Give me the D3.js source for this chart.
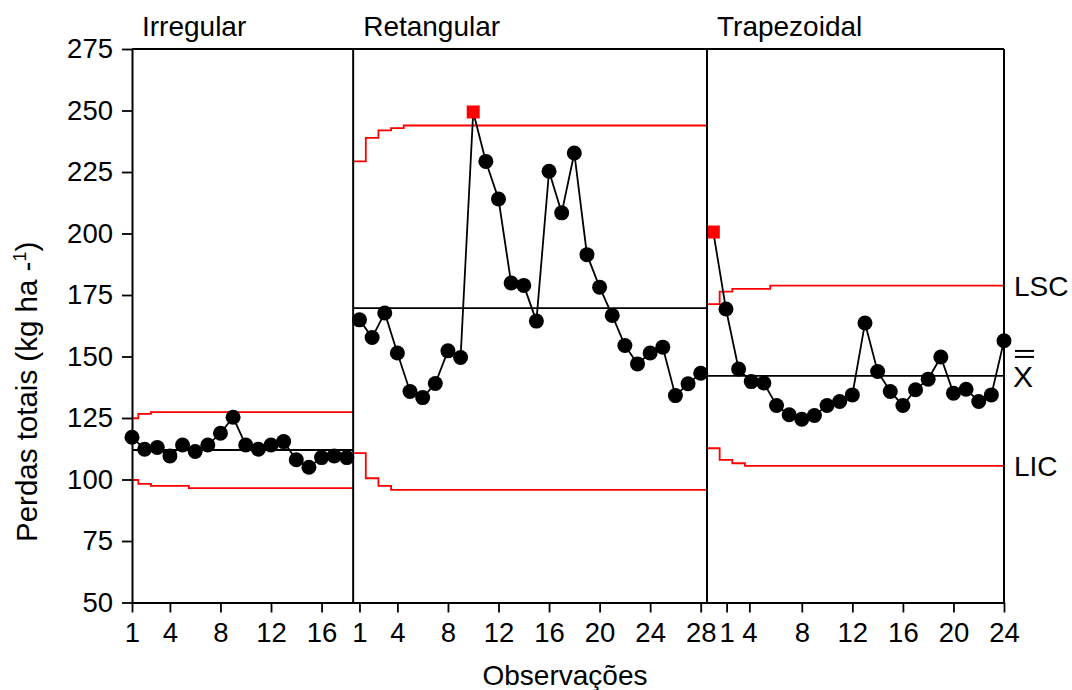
<!DOCTYPE html>
<html><head><meta charset="utf-8">
<script src="https://cdn.jsdelivr.net/npm/d3@7"></script>
<style>
html,body{margin:0;padding:0;background:#fff;}
svg text{font-family:"Liberation Sans",Arial,Helvetica,sans-serif;fill:#000;}
</style></head><body>
<svg id="chart" width="1072" height="690"></svg>
<script>
// ---------------- DATA ----------------
const stages = ["Irregular", "Retangular", "Trapezoidal"];

const irregular = [117.2,112.3,113.0,109.6,114.0,111.4,114.0,118.8,125.3,114.0,112.3,114.0,115.4,108.0,105.0,108.9,109.6,108.9];
const retangular = [164.9,157.7,167.7,151.4,135.8,133.3,139.0,152.3,149.6,249.4,229.3,214.0,179.9,178.9,164.4,225.3,208.4,232.7,191.4,178.2,166.7,154.5,147.0,151.4,153.8,134.1,138.9,143.2];
const trapezoidal = [200.6,169.3,144.9,139.8,139.2,130.1,126.3,124.5,126.0,130.1,131.7,134.4,163.6,143.9,135.8,130.1,136.5,140.8,149.8,135.1,136.7,131.7,134.4,156.4];

const centerLines = [112.0, 169.7, 142.1];

const uclIrregular = [124.9,126.7,127.4,127.4,127.4,127.4,127.4,127.4,127.4,127.4,127.4,127.4,127.4,127.4,127.4,127.4,127.4,127.4];
const lclIrregular = [99.8,98.2,97.4,97.4,97.4,96.5,96.5,96.5,96.5,96.5,96.5,96.5,96.5,96.5,96.5,96.5,96.5,96.5];
const uclRetangular = [229.3,238.9,241.9,242.8,243.9,243.9,243.9,243.9,243.9,243.9,243.9,243.9,243.9,243.9,243.9,243.9,243.9,243.9,243.9,243.9,243.9,243.9,243.9,243.9,243.9,243.9,243.9,243.9];
const lclRetangular = [110.7,100.5,97.4,95.8,95.8,95.8,95.8,95.8,95.8,95.8,95.8,95.8,95.8,95.8,95.8,95.8,95.8,95.8,95.8,95.8,95.8,95.8,95.8,95.8,95.8,95.8,95.8,95.8];
const uclTrapezoidal = [171.3,176.4,177.5,177.5,177.5,178.8,178.8,178.8,178.8,178.8,178.8,178.8,178.8,178.8,178.8,178.8,178.8,178.8,178.8,178.8,178.8,178.8,178.8,178.8];
const lclTrapezoidal = [112.7,108.0,106.6,105.5,105.5,105.5,105.5,105.5,105.5,105.5,105.5,105.5,105.5,105.5,105.5,105.5,105.5,105.5,105.5,105.5,105.5,105.5,105.5,105.5];

const yTicks = [50,75,100,125,150,175,200,225,250,275];
// tick positions on the running observation index, and the labels shown
const xTickIndex  = [1,4,8,12,16, 19,22,26,30,34,38,42,46, 48.05,49.85,54,58,62,66,70];
const xTickLabels = ["1","4","8","12","16","1","4","8","12","16","20","24","28","1","4","8","12","16","20","24"];

const limitLabels = ["LSC", "X", "LIC"];
const yTitle = "Perdas totais (kg ha ";
const xTitle = "Observações";

// ---------------- BUILD ----------------
const seriesList = [irregular, retangular, trapezoidal];
const uclList = [uclIrregular, uclRetangular, uclTrapezoidal];
const lclList = [lclIrregular, lclRetangular, lclTrapezoidal];

let off = 0;
const panels = seriesList.map((vals, p) => {
  const o = off; off += vals.length;
  return {name: stages[p], values: vals, ucl: uclList[p], lcl: lclList[p], cl: centerLines[p], offset: o};
});
const total = off;

const svg = d3.select("#chart");
svg.append("rect").attr("width",1072).attr("height",690).attr("fill","#fff");

const x = d3.scaleLinear().domain([1, total]).range([132, 1004]);
const y = d3.scaleLinear().domain([50, 275]).range([602.5, 49]);

panels.forEach((p, i) => {
  p.start = i === 0 ? 1 : p.offset + 0.5;
  p.end = i === panels.length - 1 ? total : p.offset + p.values.length + 0.5;
});

const g = svg.append("g");

// control limits (step lines)
const stepLine = d3.line().x(d => x(d[0])).y(d => y(d[1])).curve(d3.curveStep);
panels.forEach(p => {
  [p.ucl, p.lcl].forEach(lim => {
    const pts = [[p.start, lim[0]]];
    lim.forEach((v, k) => pts.push([p.offset + k + 1, v]));
    pts.push([p.end, lim[lim.length - 1]]);
    g.append("path").attr("d", stepLine(pts)).attr("fill","none")
      .attr("stroke","#ff0000").attr("stroke-width",1.8);
  });
  g.append("line").attr("x1", x(p.start)).attr("x2", x(p.end))
    .attr("y1", y(p.cl)).attr("y2", y(p.cl))
    .attr("stroke","#000").attr("stroke-width",1.8);
});

// axes
const yAxis = d3.axisLeft(y).tickValues(yTicks).tickSize(10).tickSizeOuter(0).tickPadding(9);
const ya = svg.append("g").attr("transform", `translate(${x(1)},0)`).call(yAxis);
const xAxis = d3.axisBottom(x).tickValues(xTickIndex).tickSize(10).tickSizeOuter(0).tickPadding(10)
  .tickFormat((d, k) => xTickLabels[k]);
const xa = svg.append("g").attr("transform", `translate(0,${y(50)})`).call(xAxis);
[ya, xa].forEach(a => {
  a.selectAll("text").attr("font-size", 27.5).attr("font-family", null);
  a.selectAll("line").attr("stroke-width", 1.8);
  a.select(".domain").attr("stroke-width", 2);
  a.attr("font-family", null);
});

// frame: top, right, and stage separators
svg.append("line").attr("x1", x(1)).attr("x2", x(total)).attr("y1", y(275)).attr("y2", y(275))
  .attr("stroke","#000").attr("stroke-width",2);
svg.append("line").attr("x1", x(total)).attr("x2", x(total)).attr("y1", y(275)).attr("y2", y(50))
  .attr("stroke","#000").attr("stroke-width",2);
panels.slice(1).forEach(p => {
  svg.append("line").attr("x1", x(p.start)).attr("x2", x(p.start)).attr("y1", y(275)).attr("y2", y(50))
    .attr("stroke","#000").attr("stroke-width",2);
});

// stage titles
panels.forEach(p => {
  svg.append("text").attr("x", x(p.start) + 10).attr("y", 36).attr("font-size", 28).text(p.name);
});

// data lines and points
const dataLine = d3.line().x(d => x(d.i)).y(d => y(d.v));
panels.forEach(p => {
  const pts = p.values.map((v, k) => ({i: p.offset + k + 1, v: v, out: v > p.ucl[k] || v < p.lcl[k]}));
  g.append("path").attr("d", dataLine(pts)).attr("fill","none").attr("stroke","#000").attr("stroke-width",1.8);
  g.selectAll(null).data(pts.filter(d => !d.out)).enter().append("circle")
    .attr("cx", d => x(d.i)).attr("cy", d => y(d.v)).attr("r", 7.5).attr("fill","#000");
  g.selectAll(null).data(pts.filter(d => d.out)).enter().append("rect")
    .attr("x", d => x(d.i) - 6.5).attr("y", d => y(d.v) - 6.5).attr("width", 13).attr("height", 13)
    .attr("fill","#ff0000");
});

// right-side limit labels
const last = panels[panels.length - 1];
const lx = x(total) + 10;
svg.append("text").attr("x", lx).attr("y", y(last.ucl[last.ucl.length-1]) + 10).attr("font-size", 28).text(limitLabels[0]);
svg.append("text").attr("x", lx - 1).attr("y", y(last.cl) + 11).attr("font-size", 30).text(limitLabels[1]);
[0, 6].forEach(dy => {
  svg.append("line").attr("x1", lx + 1).attr("x2", lx + 20)
    .attr("y1", y(last.cl) - 25 + dy).attr("y2", y(last.cl) - 25 + dy)
    .attr("stroke","#000").attr("stroke-width",2);
});
svg.append("text").attr("x", lx).attr("y", y(last.lcl[last.lcl.length-1]) + 10).attr("font-size", 28).text(limitLabels[2]);

// axis titles
svg.append("text").attr("x", 565).attr("y", 685).attr("text-anchor","middle").attr("font-size", 28).text(xTitle);
const yt = svg.append("text").attr("transform", "translate(37,542) rotate(-90)").attr("font-size", 29.5);
yt.append("tspan").text(yTitle + "-");
yt.append("tspan").attr("font-size", 18).attr("dy", -11).text("1");
yt.append("tspan").attr("dy", 11).text(")");
</script>
</body></html>
